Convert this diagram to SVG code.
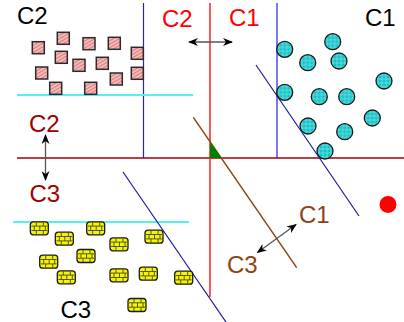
<svg xmlns="http://www.w3.org/2000/svg" width="404" height="322" viewBox="0 0 404 322">
<style>
text{font-family:"Liberation Sans",Arial,sans-serif;font-size:24px}
.sq{fill:url(#hatch);stroke:#2a2a2a;stroke-width:1.5}
.ci{fill:url(#grid);stroke:#1a1a1a;stroke-width:1.3}
.br{fill:#f5f500;stroke:#1a1a1a;stroke-width:1.3}
.bl{stroke:#333;stroke-width:0.8;fill:none}
.arr{stroke:#555;stroke-width:1.3;fill:none;marker-start:url(#ah);marker-end:url(#ah)}
</style>
<defs>
<pattern id="hatch" patternUnits="userSpaceOnUse" width="3" height="3" patternTransform="rotate(-30)">
<rect width="3" height="3" fill="#f4baba"/>
<line x1="0" y1="1.5" x2="3" y2="1.5" stroke="#d06060" stroke-width="0.7"/>
</pattern>
<pattern id="grid" patternUnits="userSpaceOnUse" width="4" height="4">
<rect width="4" height="4" fill="#14c4c8"/>
<path d="M0,2H4M2,0V4" stroke="#8ee8ea" stroke-width="0.6"/>
</pattern>
<marker id="ah" viewBox="0 0 10 8" refX="9" refY="4" markerWidth="10" markerHeight="8" markerUnits="userSpaceOnUse" orient="auto-start-reverse">
<path d="M0,0L10,4L0,8L3,4z" fill="#000"/>
</marker>
<g id="square"><rect x="-6" y="-6" width="12" height="12" class="sq"/></g>
<g id="circle"><circle r="8" class="ci"/></g>
<g id="brick"><rect x="-9" y="-6.5" width="18" height="13" rx="3" class="br"/>
<path class="bl" d="M-8,-2.2H8M-8,2.2H8M-3,-6V-2.2M4,-6V-2.2M0.5,-2.2V2.2M-5,-2.2V2.2M6,-2.2V2.2M-3,2.2V6M4,2.2V6"/></g>
</defs>

<g id="lines">
<line x1="17" y1="158" x2="404" y2="158" stroke="#a00000" stroke-width="1.5"/>
<line x1="210" y1="3" x2="210" y2="297" stroke="#ff2020" stroke-width="1.5"/>
<line x1="143.5" y1="3" x2="143.5" y2="158" stroke="#2020e0" stroke-width="1.2"/>
<line x1="277" y1="3" x2="277" y2="158" stroke="#2020e0" stroke-width="1.2"/>
<line x1="17" y1="95" x2="193" y2="95" stroke="#55f0f0" stroke-width="1.8"/>
<line x1="13" y1="222" x2="189" y2="222" stroke="#55f0f0" stroke-width="1.8"/>
<line x1="256" y1="65" x2="359" y2="216" stroke="#1a1aa0" stroke-width="1.2"/>
<line x1="123" y1="172" x2="226" y2="322" stroke="#1a1aa0" stroke-width="1.2"/>
<line x1="193.3" y1="117.3" x2="296.7" y2="267.7" stroke="#8b4513" stroke-width="1.5"/>
<polygon points="210,141.5 210,158 221.5,158" fill="#008000"/>
</g>

<g id="connectors">
<line x1="189" y1="42" x2="232" y2="42" class="arr"/>
<line x1="45.5" y1="135" x2="45.5" y2="180" class="arr"/>
<line x1="257.5" y1="252.5" x2="296" y2="224.5" class="arr"/>
</g>

<g id="c2-squares">
<use href="#square" x="38.3" y="47.7"/>
<use href="#square" x="63.3" y="38.3"/>
<use href="#square" x="89" y="43.7"/>
<use href="#square" x="114.3" y="43.3"/>
<use href="#square" x="137.3" y="53.3"/>
<use href="#square" x="61.3" y="57.3"/>
<use href="#square" x="79" y="65.3"/>
<use href="#square" x="102.3" y="63.3"/>
<use href="#square" x="41.7" y="73"/>
<use href="#square" x="137.3" y="73.3"/>
<use href="#square" x="116.3" y="79"/>
<use href="#square" x="55.7" y="88.3"/>
<use href="#square" x="90.7" y="88.3"/>
</g>

<g id="c1-circles">
<use href="#circle" x="284.7" y="49.3"/>
<use href="#circle" x="332.7" y="41.7"/>
<use href="#circle" x="307.7" y="62.7"/>
<use href="#circle" x="339" y="61"/>
<use href="#circle" x="384" y="81"/>
<use href="#circle" x="284.7" y="92.3"/>
<use href="#circle" x="319.3" y="96.7"/>
<use href="#circle" x="346.7" y="96.7"/>
<use href="#circle" x="372.3" y="118"/>
<use href="#circle" x="308" y="126"/>
<use href="#circle" x="344.7" y="131.7"/>
<use href="#circle" x="325" y="151"/>
</g>

<g id="c3-bricks">
<use href="#brick" x="39.3" y="228.3"/>
<use href="#brick" x="64.3" y="238.7"/>
<use href="#brick" x="95.7" y="228.3"/>
<use href="#brick" x="119" y="244.3"/>
<use href="#brick" x="154" y="236.7"/>
<use href="#brick" x="48.7" y="261.7"/>
<use href="#brick" x="86" y="256"/>
<use href="#brick" x="66.3" y="277.3"/>
<use href="#brick" x="119" y="275.3"/>
<use href="#brick" x="148.3" y="273.7"/>
<use href="#brick" x="183.7" y="277.7"/>
<use href="#brick" x="137" y="305"/>
</g>

<g id="point"><circle cx="388" cy="204.5" r="8.5" fill="#ff0000"/></g>

<g id="labels">
<text x="17" y="24" fill="#000">C2</text>
<text x="162" y="27" fill="#ff0000">C2</text>
<text x="229" y="26" fill="#ff0000">C1</text>
<text x="365" y="26" fill="#000">C1</text>
<text x="29" y="132" fill="#a00000">C2</text>
<text x="29.5" y="202" fill="#a00000">C3</text>
<text x="60.5" y="318" fill="#000">C3</text>
<text x="299" y="223" fill="#8b4513">C1</text>
<text x="227" y="273" fill="#8b4513">C3</text>
</g>
</svg>
